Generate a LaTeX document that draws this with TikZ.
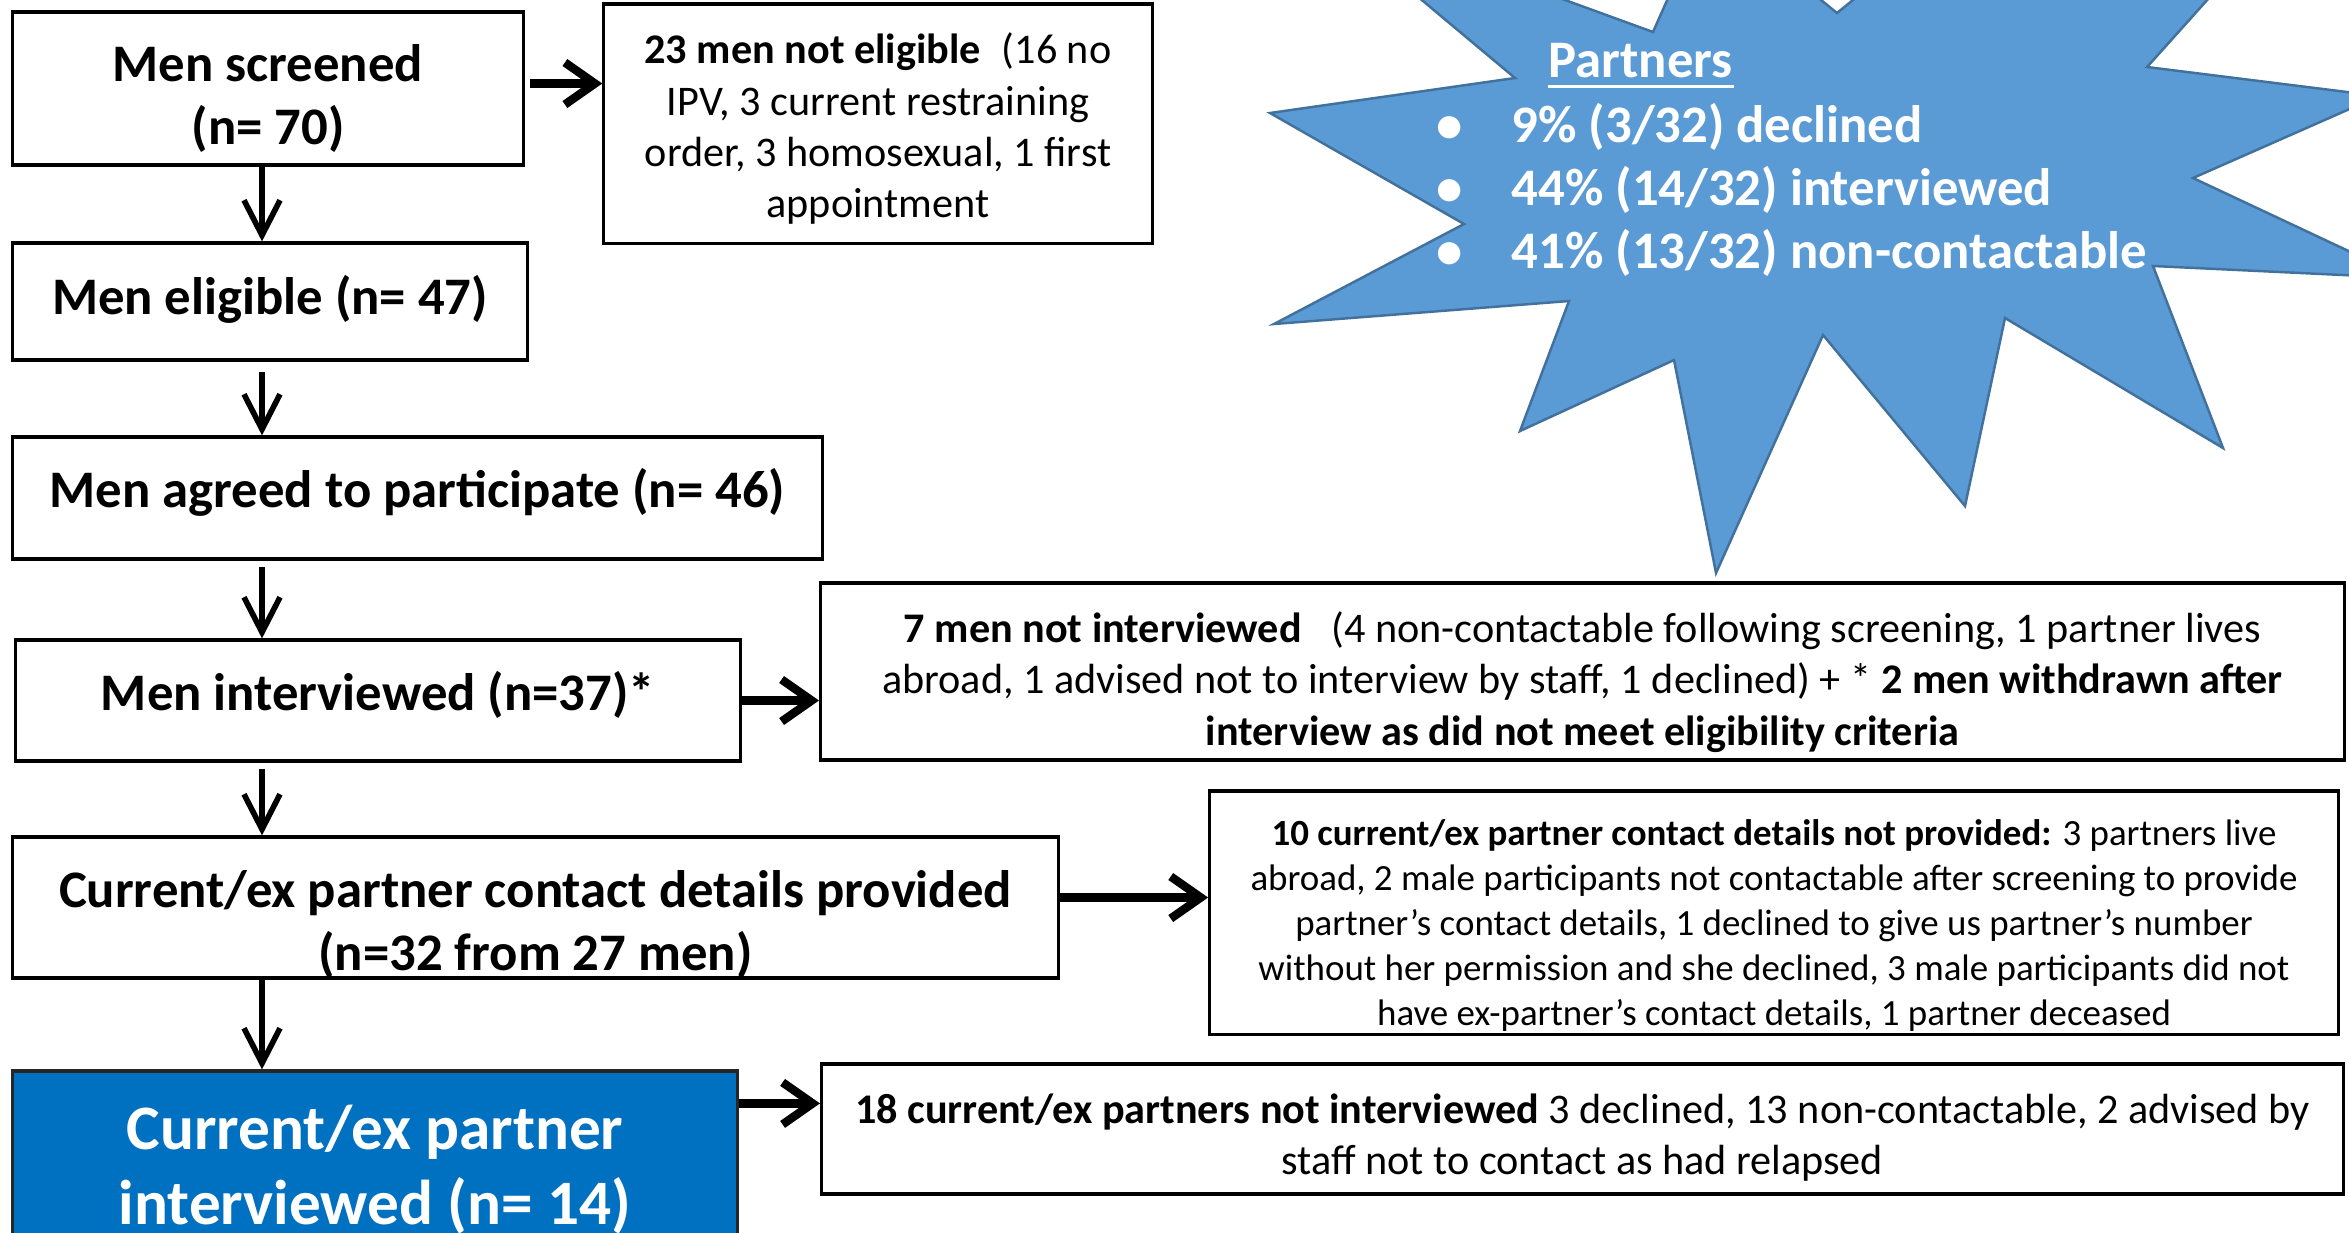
\documentclass[tikz,border=0pt]{standalone}
\usepackage{fontspec}
\setmainfont{Carlito}
\usetikzlibrary{arrows.meta}

\definecolor{burst}{HTML}{5B9BD5}
\definecolor{burstline}{HTML}{41719C}
\definecolor{finalblue}{HTML}{0070C0}

% lower a block of centred lines without changing the size of the box
\newcommand{\dropped}[2]{\raisebox{-#1}[\height][\depth]{\begin{tabular}{@{}c@{}}#2\end{tabular}}}

\tikzset{
  flowbox/.style={draw=black, line width=0.9pt, align=center, inner sep=2pt,
    font=\fontsize{15}{17.8}\selectfont\bfseries},
  notebox/.style={draw=black, line width=0.9pt, align=center, inner sep=2pt,
    font=\fontsize{12}{14.6}\selectfont},
  smallnote/.style={notebox, font=\fontsize{10.5}{12.8}\selectfont},
  startext/.style={text=white, inner sep=0pt, anchor=base west,
    font=\fontsize{15}{18}\selectfont\bfseries},
  varrow/.style={line width=1.6pt, -{Straight Barb[length=3.5mm,width=3.6mm]}},
  harrow/.style={line width=2.4pt, -{Straight Barb[length=3mm,width=4.2mm]}}
}

\begin{document}
\begin{tikzpicture}[x=0.01cm,y=-0.01cm]
\useasboundingbox (0,0) rectangle (2349,1232);
\clip (0,0) rectangle (2349,1232);
\fill[white] (0,0) rectangle (2349,1232);

% partners star
\draw[fill=burst, draw=burstline, line width=0.7pt]
  (1515,78) -- (1374,-40) -- (1455,-40) -- (1653,32) -- (1685,-40) -- (1772,-40)
  -- (1837,13) -- (1902,-40) -- (2243,-40) -- (2147,67) -- (2379,96) -- (2193,178)
  -- (2406,278) -- (2153,266) -- (2223,448) -- (2005,318) -- (1965,506) -- (1823,335)
  -- (1716,573) -- (1674,360) -- (1520,431) -- (1569,301) -- (1274,324) -- (1464,224)
  -- (1270,113) -- cycle;

\node[startext] (ptitle) at (1548,77) {Partners};
\draw[white, line width=0.9pt] ([yshift=-2.6pt]ptitle.base west) -- ([yshift=-2.6pt]ptitle.base east);
\node[startext] (pdecl) at (1436,142) {\makebox[0.75cm][l]{\textbullet}9\% (3/32) declined};
\node[startext] (pint) at (1436,205) {\makebox[0.75cm][l]{\textbullet}44\% (14/32) interviewed};
\node[startext] (pnon) at (1436,268) {\makebox[0.75cm][l]{\textbullet}41\% (13/32) non-contactable};

% flow boxes
\node[flowbox, minimum width=5.10cm, minimum height=1.53cm] (scr) at (268,88.5)
  {\dropped{0.12cm}{Men screened\\(n= 70)}};
\node[notebox, minimum width=5.48cm, minimum height=2.39cm] (noteli) at (878,123.5)
  {\dropped{0.07cm}{\textbf{23 men not eligible}\hspace{0.5em}(16 no\\IPV, 3 current restraining\\order, 3 homosexual, 1 first\\appointment}};
\node[flowbox, minimum width=5.14cm, minimum height=1.17cm] (eli) at (270,301.5)
  {\dropped{0cm}{Men eligible (n= 47)}};
\node[flowbox, minimum width=8.09cm, minimum height=1.22cm] (agr) at (417.5,498)
  {\dropped{-0.03cm}{Men agreed to participate (n= 46)}};
\node[flowbox, minimum width=7.24cm, minimum height=1.21cm] (int) at (378,700.5)
  {\dropped{-0.03cm}{Men interviewed (n=37)*}};
\node[notebox, minimum width=15.23cm, minimum height=1.77cm] (notint) at (1582.5,671.5)
  {\dropped{0.12cm}{\textbf{7 men not interviewed}\hspace{0.7em}(4 non-contactable following screening, 1 partner lives\\
   abroad, 1 advised not to interview by staff, 1 declined) + * \textbf{2 men withdrawn after}\\
   \textbf{interview as did not meet eligibility criteria}}};
\node[flowbox, minimum width=10.45cm, minimum height=1.41cm] (cont) at (535.5,907.5)
  {\dropped{0.19cm}{Current/ex partner contact details provided\\(n=32 from 27 men)}};
\node[smallnote, minimum width=11.28cm, minimum height=2.43cm] (notprov) at (1774,912.5)
  {\dropped{0.14cm}{\textbf{10 current/ex partner contact details not provided:} 3 partners live\\
   abroad, 2 male participants not contactable after screening to provide\\
   partner’s contact details, 1 declined to give us partner’s number\\
   without her permission and she declined, 3 male participants did not\\
   have ex-partner’s contact details, 1 partner deceased}};
\node[flowbox, fill=finalblue, draw=black!85, text=white, font=\fontsize{18}{21.3}\selectfont\bfseries,
  minimum width=7.24cm, minimum height=1.94cm] (pint14) at (375,1168)
  {\dropped{0.04cm}{Current/ex partner\\interviewed (n= 14)}};
\node[notebox, minimum width=15.21cm, minimum height=1.30cm] (nint) at (1582.5,1129)
  {\dropped{0.1cm}{\textbf{18 current/ex partners not interviewed} 3 declined, 13 non-contactable, 2 advised by\\
   staff not to contact as had relapsed}};

% arrows down
\coordinate (spine) at (262,0);
\draw[varrow] (scr.south -| spine) -- (eli.north -| spine);
\draw[varrow, shorten <=0.1cm] (eli.south -| spine) -- (agr.north -| spine);
\draw[varrow, shorten <=0.06cm] (agr.south -| spine) -- (int.north -| spine);
\draw[varrow, shorten <=0.06cm] (int.south -| spine) -- (cont.north -| spine);
\draw[varrow] (cont.south -| spine) -- (pint14.north -| spine);

% arrows right
\draw[harrow, shorten <=0.05cm] ([yshift=0.05cm]scr.east) -- ([yshift=0.05cm]scr.east -| noteli.west);
\draw[harrow] (int.east) -- (int.east -| notint.west);
\draw[harrow] ([yshift=0.1cm]cont.east) -- ([yshift=0.1cm]cont.east -| notprov.west);
\coordinate (blueout) at ([yshift=-0.34cm]pint14.north east);
\draw[harrow] (blueout) -- (blueout -| nint.west);
\end{tikzpicture}
\end{document}
